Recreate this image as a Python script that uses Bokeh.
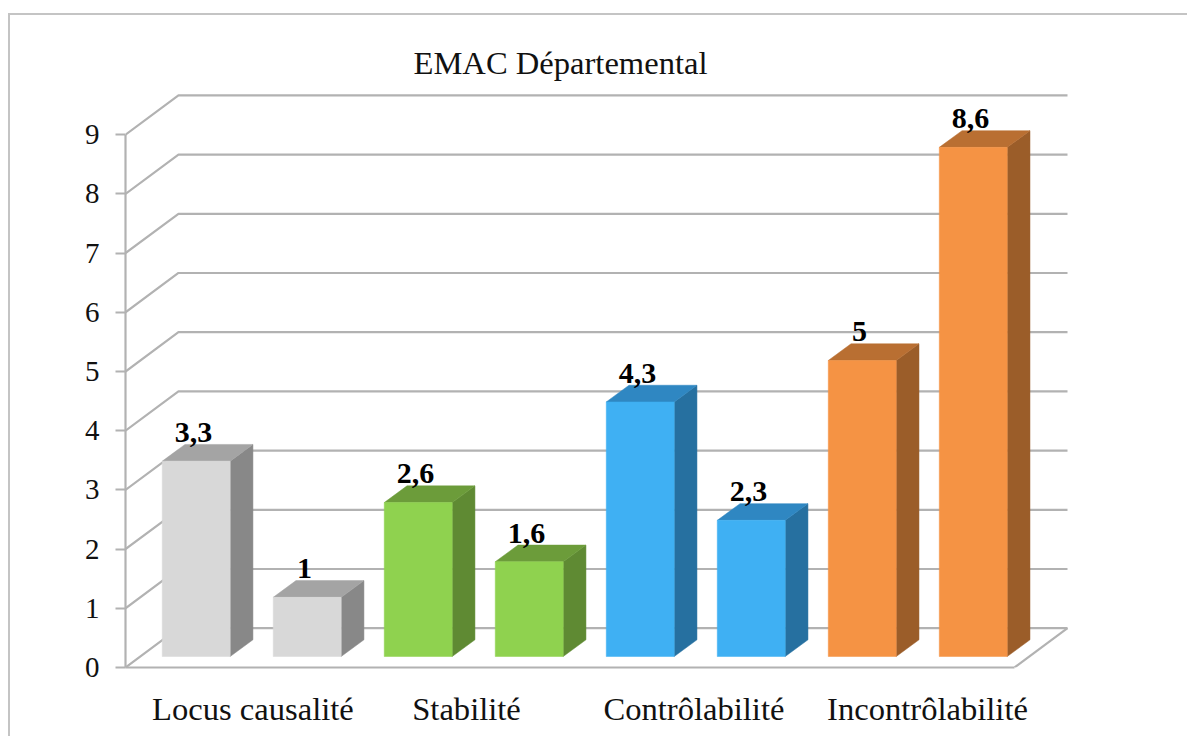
from bokeh.core.properties import value
from bokeh.embed import file_html
from bokeh.models import FixedTicker, Range1d
from bokeh.plotting import figure
from bokeh.resources import INLINE

# Chart content
title = "EMAC Départemental"
categories = ["Locus causalité", "Stabilité", "Contrôlabilité", "Incontrôlabilité"]
locus_values = [3.3, 1]
stabilite_values = [2.6, 1.6]
controlabilite_values = [4.3, 2.3]
incontrolabilite_values = [5, 8.6]
value_ticks = [0, 1, 2, 3, 4, 5, 6, 7, 8, 9]
category_ticks = [0.511, 2.435, 4.484, 6.588]

# Face colours per group: front, side, top
palette = [
    ("#d8d8d8", "#888888", "#a4a4a4"),
    ("#8fd24f", "#5f8a33", "#6c9c3a"),
    ("#3fb0f3", "#2670a0", "#2f87c2"),
    ("#f59344", "#9b5d29", "#b96f32"),
]

# Isometric projection, in data units
X_START, X_END = -0.637, 8.93
Y_END = 582 / 59.2
WALL_DX, WALL_DY = 0.477, 0.664
FLOOR_RIGHT = 7.372
BAR_WIDTH = 0.612
BAR_DX, BAR_DY = 0.205, 0.282
BAR_BASE = 0.186

GRID = "#b2b2b2"
SERIF = "Liberation Serif"
BORDER = "#c4c4c4"

# The figure sits inside the page margin; shadows on its host draw the
# open chart border along the top and left
p = figure(
    width=1177, height=721, output_backend="svg", toolbar_location=None,
    x_range=Range1d(X_START, X_END), y_range=Range1d(0, Y_END),
    min_border_left=115, min_border_right=0, min_border_top=70, min_border_bottom=69,
    background_fill_color="white", border_fill_color="white", outline_line_color=None,
    title=title, margin=(15, 0, 0, 10),
    styles={"box-shadow": f"-2px 0 0 0 {BORDER}, 0 -2px 0 0 {BORDER}, -2px -2px 0 0 {BORDER}"},
)
p.title.text_font = SERIF
p.title.text_font_size = "32.6px"
p.title.text_font_style = "normal"
p.title.text_color = "#111111"
p.title.align = "left"
p.title.offset = 288
p.title.standoff = 9

p.xgrid.visible = False
p.ygrid.visible = False

# Walls: slanted floor-to-back segments, then horizontals along the back
wall_xs, wall_ys = [], []
for v in value_ticks:
    wall_xs.append([X_START, X_START + WALL_DX, FLOOR_RIGHT + WALL_DX])
    wall_ys.append([v, v + WALL_DY, v + WALL_DY])
p.multi_line(wall_xs, wall_ys, line_color=GRID, line_width=2.2)

# Floor's right edge
p.line([FLOOR_RIGHT, FLOOR_RIGHT + WALL_DX], [0, WALL_DY], line_color=GRID, line_width=2.2)

# Bars
groups = [locus_values, stabilite_values, controlabilite_values, incontrolabilite_values]
slot = 0
label_x, label_y, label_text = [], [], []
for group, (front, side, top) in zip(groups, palette):
    for v in group:
        l, r = slot - BAR_WIDTH / 2, slot + BAR_WIDTH / 2
        b, t = BAR_BASE, BAR_BASE + v
        p.patch([r, r + BAR_DX, r + BAR_DX, r], [b, b + BAR_DY, t + BAR_DY, t],
                fill_color=side, line_color=side, line_width=0.5)
        p.patch([l, r, r + BAR_DX, l + BAR_DX], [t, t, t + BAR_DY, t + BAR_DY],
                fill_color=top, line_color=top, line_width=0.5)
        p.patch([l, r, r, l], [b, b, t, t],
                fill_color=front, line_color=front, line_width=0.5)
        label_x.append(slot - 0.025)
        label_y.append(t + BAR_DY)
        label_text.append(str(v).replace(".", ","))
        slot += 1

# Value labels above each bar
p.text(label_x, label_y, text=label_text, text_font=value(SERIF), text_font_size="30px",
       text_font_style="bold", text_color="#000000", text_align="center",
       text_baseline="alphabetic", y_offset=-12)

# Value axis
ya = p.yaxis[0]
ya.ticker = FixedTicker(ticks=value_ticks)
ya.bounds = (0, 9)
ya.axis_line_color = GRID
ya.axis_line_width = 2.2
ya.major_tick_line_color = GRID
ya.major_tick_line_width = 2.2
ya.major_tick_in = 0
ya.major_tick_out = 10
ya.minor_tick_line_color = None
ya.major_label_standoff = 16
ya.major_label_text_font = SERIF
ya.major_label_text_font_size = "29px"
ya.major_label_text_color = "#111111"

# Category axis: its line is the floor's front edge
xa = p.xaxis[0]
xa.ticker = FixedTicker(ticks=category_ticks)
xa.major_label_overrides = dict(zip(category_ticks, categories))
xa.bounds = (X_START, FLOOR_RIGHT)
xa.axis_line_color = GRID
xa.axis_line_width = 2.2
xa.major_tick_line_color = None
xa.minor_tick_line_color = None
xa.major_tick_in = 0
xa.major_tick_out = 0
xa.major_label_standoff = 23
xa.major_label_text_font = SERIF
xa.major_label_text_font_size = "32.6px"
xa.major_label_text_color = "#111111"

open("out.html", "w").write(file_html(p, INLINE))
